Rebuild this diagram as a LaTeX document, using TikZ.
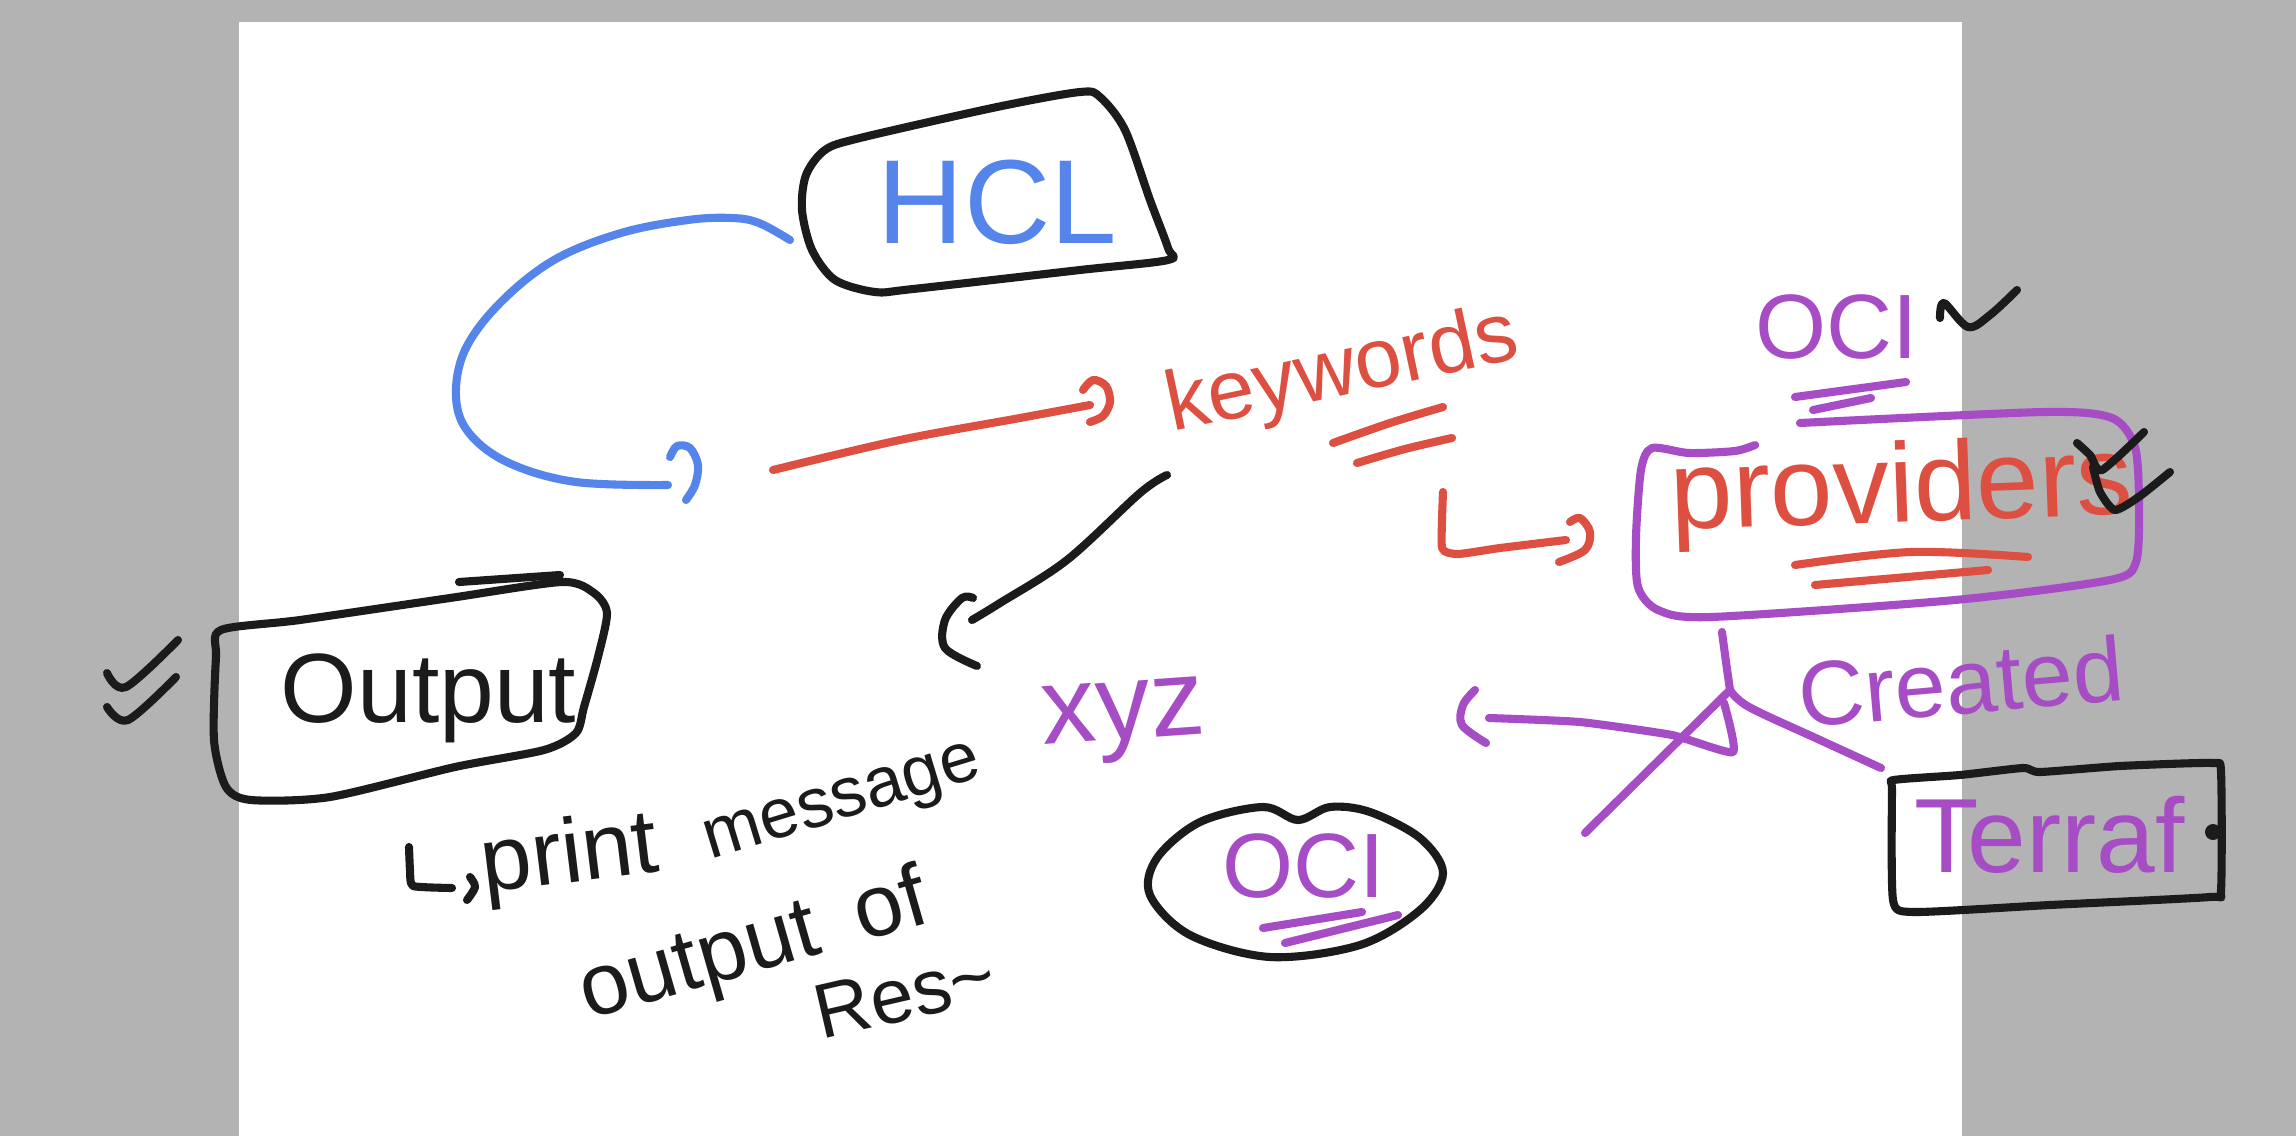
\documentclass[tikz,border=0pt]{standalone}
\usepackage{fontspec}
\setmainfont{Liberation Sans}
\definecolor{hblue}{HTML}{5585EA}
\definecolor{hred}{HTML}{DD4F41}
\definecolor{hpurple}{HTML}{A64CC4}
\definecolor{hblack}{HTML}{1B1B1B}
\definecolor{hgray}{HTML}{B3B3B3}
\tikzset{
  pen/.style={line width=2.3pt, line cap=round, line join=round},
  txt/.style={inner sep=0pt, anchor=base west},
  sm/.style={smooth, tension=0.55},
}
\newcommand{\fs}[1]{\fontsize{#1}{#1}\selectfont}
\begin{document}
\begin{tikzpicture}[x=0.01cm, y=-0.01cm]
\useasboundingbox (0,0) rectangle (2296,1136);
\fill[hgray] (0,0) rectangle (2296,1136);
\fill[white] (239,22) rectangle (1962,1136);

% ---------- HCL box ----------
\draw[pen, hblack] plot[smooth cycle, tension=0.5] coordinates {(875,292) (835,280) (812,250) (802,210) (806,175) (825,150) (860,138) (997,107) (1080,92) (1100,97) (1125,130) (1150,200) (1168,248) (1168,260) (1080,270) (913,289)};
\node[txt, text=hblue, font=\fs{34}] (hcl) at (877,243) {HCL};

% blue loop from HCL
\coordinate (b1) at (790,240);
\coordinate (b2) at (668,485);
\draw[pen, hblue] plot[smooth, tension=0.6] coordinates {(b1) (759,223) (732,218) (688,220) (621,233) (554,260) (500,303) (465,350) (456,397) (469,433) (509,463) (576,482) (b2)};
\draw[pen, hblue] plot[sm] coordinates {(670,457) (677,446) (690,448) (698,465) (695,485) (686,500)};

% red arrow to keywords
\coordinate (r1) at (773,470);
\coordinate (r2) at (1090,405);
\draw[pen, hred] plot[sm] coordinates {(r1) (900,440) (1020,418) (r2)};
\draw[pen, hred] plot[sm] coordinates {(1083,390) (1093,380) (1106,386) (1110,402) (1103,416) (1090,422)};

% keywords
\node[txt, text=hred, font=\fs{24}, rotate=12] (kw) at (1172,432) {keywords};
\draw[pen, hred] plot[sm] coordinates {(1333,443) (1390,423) (1443,407)};
\draw[pen, hred] plot[sm] coordinates {(1357,463) (1405,449) (1452,438)};

% red L arrow to provider
\draw[pen, hred] plot[smooth, tension=0.3] coordinates {(1443,492) (1442,548) (1458,554) (1500,548) (1566,540)};
\draw[pen, hred] plot[sm] coordinates {(1570,522) (1580,518) (1590,532) (1585,550) (1559,562)};

% black connector keywords -> print message
\coordinate (k1) at (1167,475);
\coordinate (k2) at (972,620);
\draw[pen, hblack] plot[sm] coordinates {(k1) (1140,493) (1067,560) (1000,603) (k2)};
\draw[pen, hblack] plot[sm] coordinates {(973,598) (962,598) (945,620) (945,648) (977,666)};

% ---------- OCI (top) ----------
\node[txt, text=hpurple, font=\fs{26}] (ocitop) at (1755,358) {OCI};
\draw[pen, hblack] plot[sm] coordinates {(1940,318) (1944,303) (1968,327) (1990,315) (2017,290)};
\draw[pen, hpurple] (1795,397) -- (1906,382);
\draw[pen, hpurple] (1813,410) -- (1871,398);

% ---------- provider box ----------
\draw[pen, hpurple] plot[smooth, tension=0.45] coordinates {(1755,445) (1735,451) (1689,453) (1652,448) (1641,470) (1636,537) (1638,587) (1658,610) (1711,617) (1955,600) (2110,580) (2136,562) (2139,503) (2135,447) (2112,418) (2044,412) (1800,423)};
\node[txt, text=hred, font=\fs{32}, rotate=2] (prov) at (1671,530) {providers};
\draw[pen, hred] plot[sm] coordinates {(1795,565) (1911,552) (2028,557)};
\draw[pen, hred] (1815,585) -- (1988,570);
\draw[pen, hblack] plot[smooth, tension=0.4] coordinates {(2077,443) (2090,455) (2102,470) (2144,432)};
\draw[pen, hblack] plot[smooth, tension=0.4] coordinates {(2093,467) (2100,492) (2115,510) (2140,496) (2170,472)};

% ---------- Created branch ----------
\coordinate (c0) at (1722,632);
\coordinate (cj) at (1730,690);
\coordinate (ct) at (1881,768);
\coordinate (cl) at (1585,833);
\coordinate (cb) at (1489,718);
\draw[pen, hpurple] plot[sm] coordinates {(c0) (1726,662) (cj)};
\draw[pen, hpurple] plot[sm] coordinates {(cj) (1749,707) (1820,740) (ct)};
\draw[pen, hpurple] (cj) -- (cl);
\draw[pen, hpurple] plot[smooth, tension=0.3] coordinates {(1724,703) (1733,752) (1672,735) (1580,722) (cb)};
\draw[pen, hpurple] plot[sm] coordinates {(1475,690) (1463,705) (1462,725) (1486,743)};
\node[txt, text=hpurple, font=\fs{26}, rotate=5] (created) at (1801,728) {Created};

% ---------- Terraf box ----------
\draw[pen, hblack] plot[smooth cycle, tension=0.35] coordinates {(1894,780) (1960,775) (2023,768) (2040,772) (2120,766) (2212,763) (2221,772) (2221,890) (2210,897) (2050,905) (1914,912) (1893,900) (1892,790)};
\fill[hblack] (2213,832) circle[radius=8];
\node[txt, text=hpurple, font=\fs{30}] (terraf) at (1914,872) {Terraf};

% ---------- OCI ellipse ----------
\draw[pen, hblack] plot[smooth cycle, tension=0.55] coordinates {(1298,820) (1263,807) (1200,822) (1157,858) (1150,895) (1190,935) (1270,957) (1360,945) (1420,910) (1443,873) (1420,838) (1370,812) (1330,807)};
\node[txt, text=hpurple, font=\fs{26}] (oci) at (1222,897) {OCI};
\draw[pen, hpurple] (1263,928) -- (1362,912);
\draw[pen, hpurple] (1285,943) -- (1398,915);

% xyz
\node[txt, text=hpurple, font=\fs{31}, rotate=4] (xyz) at (1043,745) {xyz};

% ---------- Output box ----------
\draw[pen, hblack] plot[smooth cycle, tension=0.45] coordinates {(221,630) (216,657) (214,740) (226,787) (251,800) (330,797) (455,767) (544,750) (576,733) (584,707) (598,657) (607,613) (594,593) (562,582) (450,598) (300,620)};
\draw[pen, hblack] (459,582) -- (560,575);
\node[txt, text=hblack, font=\fs{28}] (output) at (280,722) {Output};
\draw[pen, hblack] plot[sm] coordinates {(107,673) (126,687) (178,640)};
\draw[pen, hblack] plot[sm] coordinates {(107,707) (128,720) (176,677)};

% print message notes
\draw[pen, hblack] plot[smooth, tension=0.3] coordinates {(409,847) (410,870) (413,886) (452,888)};
\draw[pen, hblack] plot[sm] coordinates {(470,877) (475,887) (467,900)};
\node[txt, text=hblack, font=\fs{26}, rotate=7] (pmprint) at (484,893) {print};
\node[txt, text=hblack, font=\fs{20}, rotate=17] (pmmsg) at (710,860) {message};
\node[txt, text=hblack, font=\fs{25}, rotate=16] (ooout) at (588,1020) {output};
\node[txt, text=hblack, font=\fs{25}, rotate=16] (ooof) at (862,942) {of};
\node[txt, text=hblack, font=\fs{22}, rotate=13] (res) at (821,1040) {Res\char`\~};
\end{tikzpicture}
\end{document}
